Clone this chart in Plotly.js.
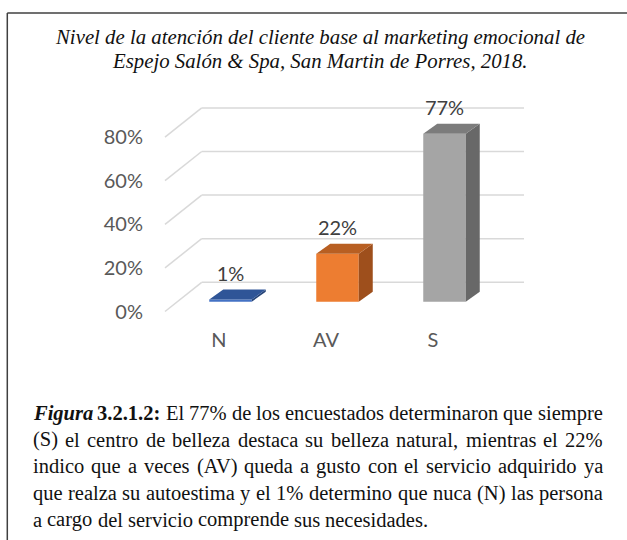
<!DOCTYPE html>
<html><head><meta charset="utf-8">
<script src="https://cdn.plot.ly/plotly-3.0.1.min.js"></script>
<style>html,body{margin:0;padding:0;background:#fff}#chart{width:627px;height:540px}</style>
</head><body><div id="chart"></div>
<script>
// ---------- data ----------
const categories = ['N', 'AV', 'S'];
const values = [1, 22, 77];
const valueLabels = ['1%', '22%', '77%'];
const tickValues = [0, 20, 40, 60, 80];
const tickLabels = ['0%', '20%', '40%', '60%', '80%'];
const frontColors = ['#4472C4', '#ED7D31', '#A5A5A5'];
const topColors = ['#2F5597', '#B85F22', '#7C7C7C'];
const sideColors = ['#264478', '#9E4F1C', '#686868'];
const titleLines = ['Nivel de la atención del cliente base al marketing emocional de',
                    'Espejo Salón & Spa, San Martin de Porres, 2018.'];
const captionLines = [
  'Figura 3.2.1.2: El 77% de los encuestados determinaron que siempre',
  '(S) el centro de belleza destaca su belleza natural, mientras el 22%',
  'indico que a veces (AV) queda a gusto con el servicio adquirido ya',
  'que realza su autoestima y el 1% determino que nuca (N) las persona',
  'a cargo del servicio comprende sus necesidades.'
];
const captionBoldItalic = ['Figura'];
const captionBold = ['3.2.1.2:'];

// ---------- geometry (pixels) ----------
const W = 627, H = 540;
const plotL = 150, plotR = 607, plotT = 95, plotB = 326;
const slotPx = 107, firstCenterPx = 230.5;
const zeroPx = 301.7, pxPerPct = 2.18;
const barWidthPx = 42.5, depthXPx = 14, depthYPx = 10;
const backX0Px = 201.7, backX1Px = 524, sideXPx = 165;
const frontOffPx = 9.8, backOffPx = -19.4;   // relative to bar baseline
const catLabelShiftPx = -11.5;
const valueLabelGapPx = 14;

const xr = [(plotL - firstCenterPx) / slotPx, (plotR - firstCenterPx) / slotPx];
const yr = [(zeroPx - plotB) / pxPerPct, (zeroPx - plotT) / pxPerPct];
const bw = barWidthPx / slotPx, dX = depthXPx / slotPx, dY = depthYPx / pxPerPct;
const frontOff = -frontOffPx / pxPerPct, backOff = -backOffPx / pxPerPct;
const bx0 = (backX0Px - firstCenterPx) / slotPx, bx1 = (backX1Px - firstCenterPx) / slotPx;
const sx = (sideXPx - firstCenterPx) / slotPx;
const px2x = p => (p - plotL) / (plotR - plotL);
const py2y = p => (plotB - p) / (plotB - plotT);

const xs = categories.map((c, i) => i);
const sansFont = 'Lato, sans-serif';

// ---------- traces ----------
const traces = [];
traces.push({
  type: 'bar', x: xs, y: values, width: bw,
  marker: {color: frontColors, line: {width: 0}},
  hoverinfo: 'skip', showlegend: false
});
xs.forEach((x, i) => {
  const v = values[i], l = x - bw / 2, r = x + bw / 2;
  traces.push({
    type: 'scatter', mode: 'none', fill: 'toself', fillcolor: sideColors[i],
    x: [r, r + dX, r + dX, r, r], y: [0, dY, v + dY, v, 0],
    hoverinfo: 'skip', showlegend: false
  });
  traces.push({
    type: 'scatter', mode: 'none', fill: 'toself', fillcolor: topColors[i],
    x: [l, r, r + dX, l + dX, l], y: [v, v, v + dY, v + dY, v],
    hoverinfo: 'skip', showlegend: false
  });
});
traces.push({
  type: 'scatter', mode: 'text', x: xs,
  y: values.map(v => v + dY + valueLabelGapPx / pxPerPct),
  text: valueLabels, textposition: 'middle center', cliponaxis: false,
  textfont: {family: sansFont, size: 20, color: '#404040'},
  hoverinfo: 'skip', showlegend: false
});

// ---------- grid shapes ----------
const shapes = [];
const gridLine = {color: '#D9D9D9', width: 1.5};
tickValues.forEach(v => {
  shapes.push({type: 'line', xref: 'x', yref: 'y', layer: 'below',
    x0: bx0, x1: bx1, y0: v + backOff, y1: v + backOff, line: gridLine});
  shapes.push({type: 'line', xref: 'x', yref: 'y', layer: 'below',
    x0: sx, x1: bx0, y0: v + frontOff, y1: v + backOff, line: gridLine});
});
// frame
const frame = {color: '#404040', width: 1.5};
shapes.push({type: 'line', xref: 'paper', yref: 'paper', x0: px2x(7.3), x1: px2x(W), y0: py2y(13), y1: py2y(13), line: frame});
shapes.push({type: 'line', xref: 'paper', yref: 'paper', x0: px2x(7.3), x1: px2x(7.3), y0: py2y(13), y1: py2y(H), line: frame});

// ---------- title ----------
const annotations = [];
const serifFamily = '"Liberation Serif", "Times New Roman", serif';
const titleSize = 20.8, titleCenterPx = 320, titleTopPx = 37.5, titleStep = 23.5;
titleLines.forEach((t, i) => {
  annotations.push({
    xref: 'paper', yref: 'paper', x: px2x(titleCenterPx), y: py2y(titleTopPx + i * titleStep),
    xanchor: 'center', yanchor: 'middle', showarrow: false,
    text: '<i>' + t.replace(/&/g, '&amp;') + '</i>', borderpad: 0, borderwidth: 0,
    font: {family: serifFamily, size: titleSize, color: '#111111'}
  });
});

// ---------- caption (justified) ----------
const capSize = 20.5;
const capLeft = 33, capRight = 603, capTop = 413, capStep = 26.7;
const ctx = document.createElement('canvas').getContext('2d');
function styleOf(w) {
  if (captionBoldItalic.includes(w)) return 'italic bold';
  if (captionBold.includes(w)) return 'bold';
  return 'normal';
}
function measure(w) {
  ctx.font = styleOf(w) + ' ' + capSize + 'px "Liberation Serif"';
  return ctx.measureText(w).width;
}
function markup(w) {
  const s = w.replace(/&/g, '&amp;');
  if (captionBoldItalic.includes(w)) return '<b><i>' + s + '</i></b>';
  if (captionBold.includes(w)) return '<b>' + s + '</b>';
  return s;
}
captionLines.forEach((line, li) => {
  const words = line.split(' ');
  const widths = words.map(measure);
  const total = widths.reduce((a, b) => a + b, 0);
  const last = li === captionLines.length - 1;
  const space = measure(' ');
  const gap = last ? space : Math.max(0.6 * space, (capRight - capLeft - total) / (words.length - 1));
  let xpos = capLeft;
  words.forEach((w, wi) => {
    annotations.push({
      xref: 'paper', yref: 'paper', x: px2x(xpos), y: py2y(capTop + li * capStep),
      xanchor: 'left', yanchor: 'middle', showarrow: false, text: markup(w),
      borderpad: 0, borderwidth: 0,
      font: {family: serifFamily, size: capSize, color: '#111111'}
    });
    xpos += widths[wi] + gap;
  });
});

// ---------- layout ----------
const layout = {
  width: W, height: H,
  margin: {l: plotL, r: W - plotR, t: plotT, b: H - plotB, pad: 0},
  paper_bgcolor: '#ffffff', plot_bgcolor: 'rgba(0,0,0,0)',
  showlegend: false,
  xaxis: {
    range: xr, fixedrange: true, showgrid: false, zeroline: false, showline: false,
    tickmode: 'array', tickvals: xs.map(x => x + catLabelShiftPx / slotPx), ticktext: categories,
    ticks: '', tickfont: {family: sansFont, size: 20, color: '#595959'},
    ticklabelstandoff: 0
  },
  yaxis: {
    range: yr, fixedrange: true, showgrid: false, zeroline: false, showline: false,
    tickmode: 'array', tickvals: tickValues.map(v => v + frontOff), ticktext: tickLabels,
    ticks: '', tickfont: {family: sansFont, size: 20, color: '#595959'},
    ticklabelstandoff: 6
  },
  shapes: shapes,
  annotations: annotations
};
Plotly.newPlot('chart', traces, layout, {displayModeBar: false, staticPlot: true});
</script></body></html>
